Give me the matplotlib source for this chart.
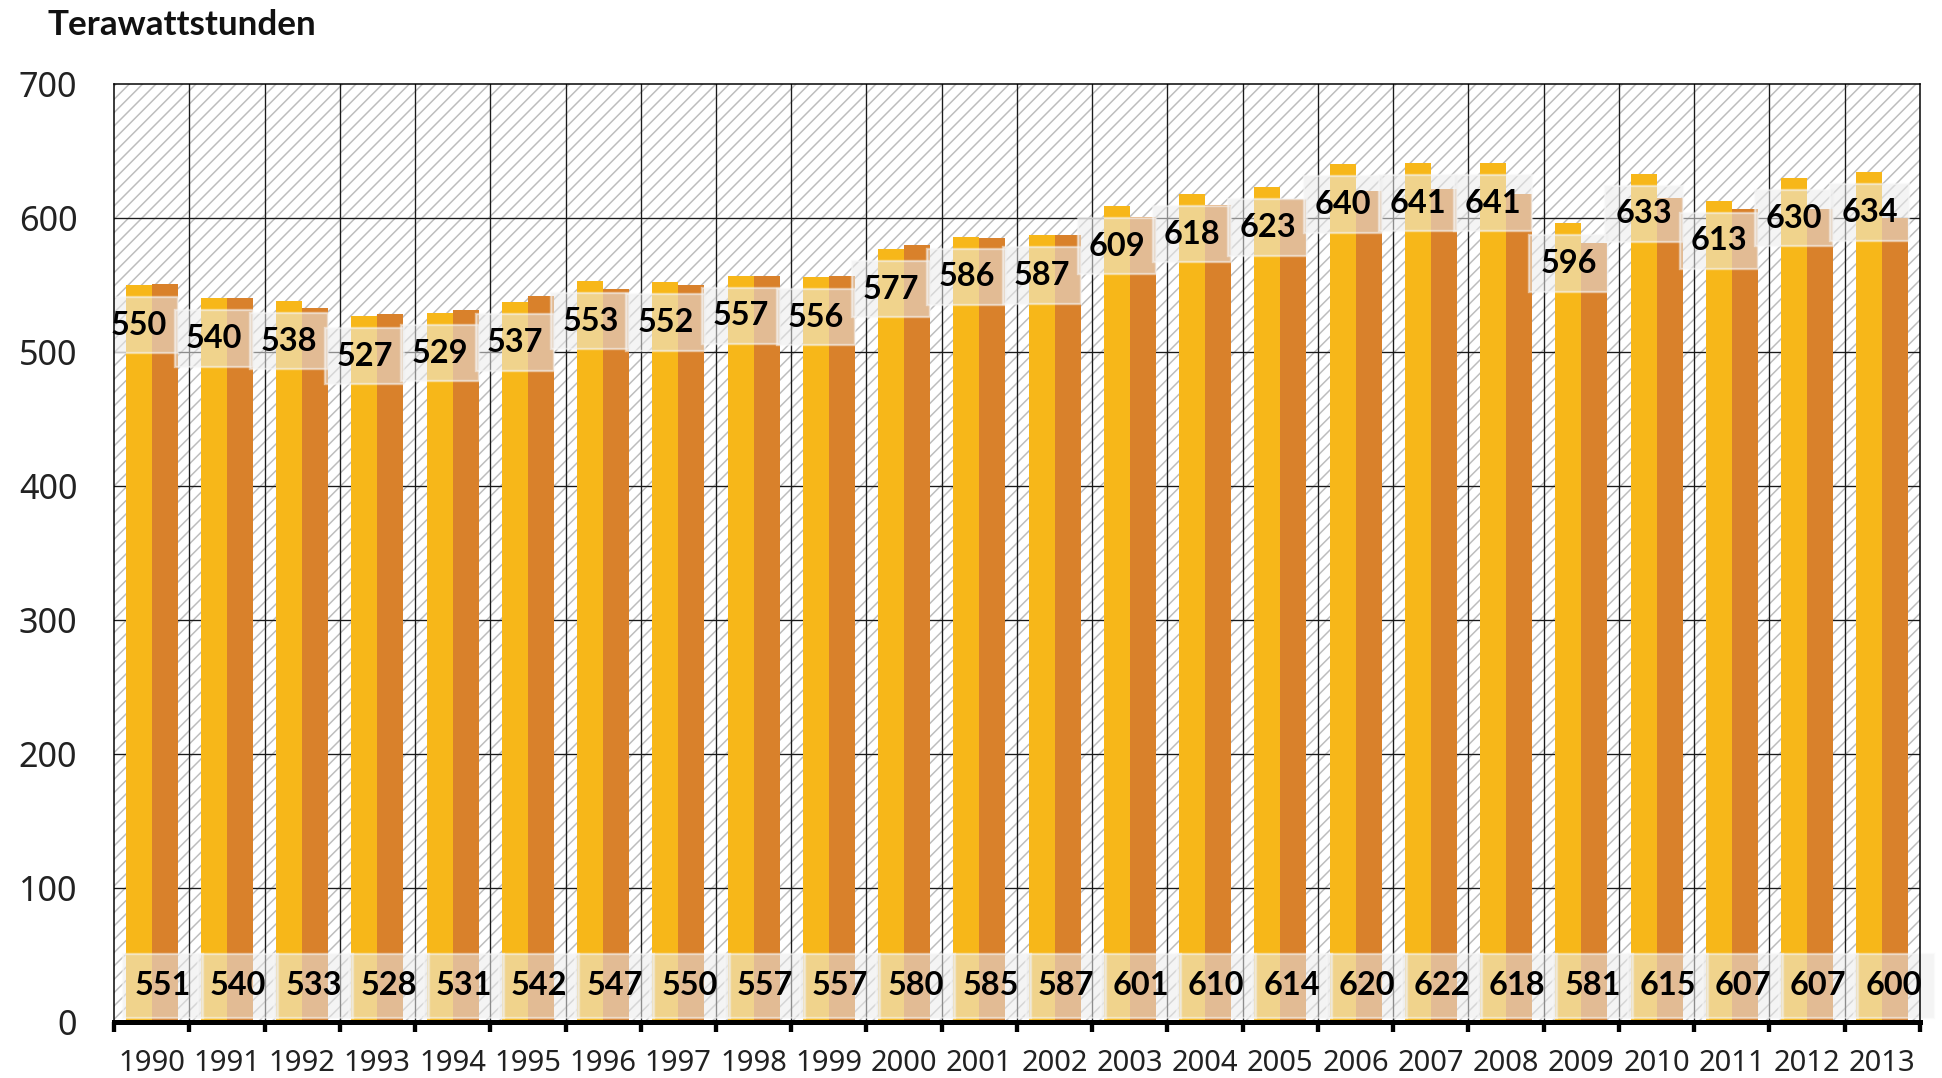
import matplotlib
matplotlib.use("Agg")
import matplotlib.pyplot as plt
from matplotlib.patches import Rectangle
import numpy as np

years = [str(y) for y in range(1990, 2014)]
series_a = [550, 540, 538, 527, 529, 537, 553, 552, 557, 556, 577, 586, 587,
            609, 618, 623, 640, 641, 641, 596, 633, 613, 630, 634]
series_b = [551, 540, 533, 528, 531, 542, 547, 550, 557, 557, 580, 585, 587,
            601, 610, 614, 620, 622, 618, 581, 615, 607, 607, 600]
y_ticks = [0, 100, 200, 300, 400, 500, 600, 700]
unit_label = "Terawattstunden"

DPI = 120
W, H = 1942, 1078
plt.rcParams['font.family'] = ['Noto Sans', 'DejaVu Sans']
plt.rcParams['hatch.linewidth'] = 0.9
BOLD = ['Lato', 'DejaVu Sans']

fig = plt.figure(figsize=(W / DPI, H / DPI), dpi=DPI)
ax = fig.add_axes([114 / W, 1 - 1022 / H, (1920 - 114) / W, (1022 - 84) / H])

n = len(years)
x = np.arange(n)
ax.set_xlim(-0.5, n - 0.5)
ax.set_ylim(0, 700)

# hatched background
bg = Rectangle((0, 0), 1, 1, transform=ax.transAxes, facecolor='white',
               edgecolor='#bdbdbd', hatch='///', linewidth=0, zorder=0)
ax.add_patch(bg)

yellow = '#F7B719'
orange = '#D9812B'
bw = 0.345
ax.bar(x - bw / 2, series_a, width=bw, color=yellow, zorder=3, linewidth=0)
ax.bar(x + bw / 2, series_b, width=bw, color=orange, zorder=3, linewidth=0)

# grid lines
for v in y_ticks[1:-1]:
    ax.axhline(v, color='#1a1a1a', lw=0.8, zorder=2)
for b in np.arange(0.5, n - 0.5, 1):
    ax.axvline(b, color='#1a1a1a', lw=0.8, zorder=2)

# labels with translucent boxes
box_face = '#ebebeb'
box_edge = '#f7f7f7'
for i in range(n):
    tx = i - 0.17
    ty = series_a[i] - 30
    ax.add_patch(Rectangle((tx - 0.52, ty - 21), 1.04, 42, facecolor=box_face,
                           edgecolor=box_edge, lw=1.4, alpha=0.55, zorder=4))
    ax.text(tx, ty, str(series_a[i]), ha='center', va='center',
            fontsize=19.5, fontweight='bold', family=BOLD, color='black',
            zorder=6)
for i in range(n):
    tx = i + 0.15
    ty = 27
    ax.add_patch(Rectangle((tx - 0.53, ty - 24), 1.06, 48, facecolor=box_face,
                           edgecolor=box_edge, lw=1.4, alpha=0.55, zorder=4,
                           clip_on=False))
    ax.text(tx, ty, str(series_b[i]), ha='center', va='center',
            fontsize=19.5, fontweight='bold', family=BOLD, color='black',
            zorder=6)

# axes styling
for s in ['top', 'left', 'right']:
    ax.spines[s].set_linewidth(0.9)
    ax.spines[s].set_color('black')
    ax.spines[s].set_zorder(7)
ax.spines['bottom'].set_linewidth(3)
ax.spines['bottom'].set_zorder(7)

ax.set_yticks(y_ticks)
ax.set_yticklabels([str(v) for v in y_ticks])
ax.tick_params(axis='y', length=0, pad=22, labelsize=20.5, labelcolor='#222222')

ax.set_xticks(np.arange(-0.5, n, 1))
ax.set_xticklabels([])
ax.tick_params(axis='x', which='major', length=6, width=2.6, color='black',
               direction='out')
ax.set_xticks(x, minor=True)
ax.set_xticklabels(years, minor=True)
ax.tick_params(axis='x', which='minor', length=0, pad=16, labelsize=17.5,
               labelcolor='#222222')

fig.text(47 / W, 1 - 25 / H, unit_label, ha='left', va='center',
         fontsize=21, fontweight='bold', family=BOLD, color='#111111')

fig.savefig('out.png', dpi=DPI)
